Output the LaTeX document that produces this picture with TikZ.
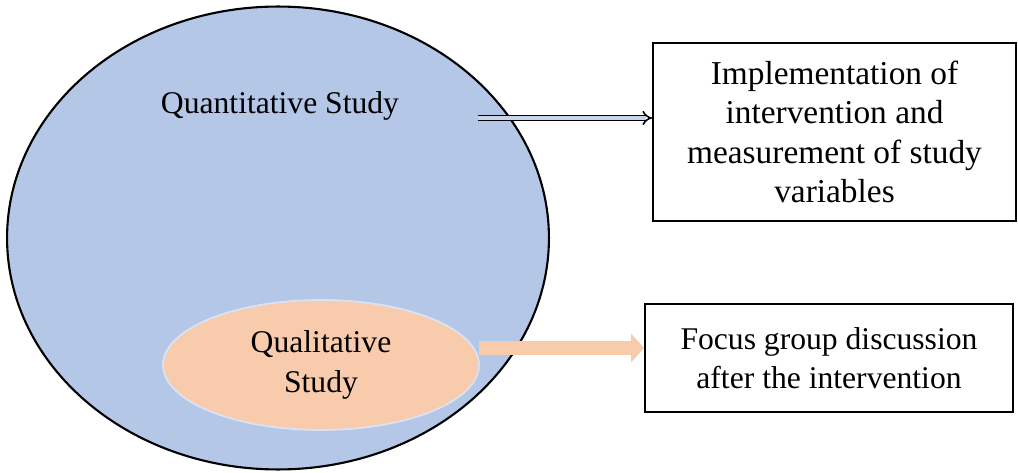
\documentclass[tikz,border=0pt]{standalone}
\usepackage{fontspec}
\setmainfont{Liberation Serif}
\usetikzlibrary{arrows.meta, shapes.geometric}

\begin{document}
\begin{tikzpicture}[> = Latex, x = 0.02cm, y = -0.02cm,
        every node/.style = {font = \fontsize{18}{22.5}\selectfont, align = center},
        studybox/.style = {draw, line width = 1.1pt, inner sep = 0pt}
    ]

        % Fix the page to the size of the picture.
        \useasboundingbox (0, 0) rectangle (1018, 473);

        % Positions for the texts and the arrow ends.
        \coordinate (QN) at (278, 238);
        \coordinate (QL) at (321, 365);
        \coordinate (S) at (478, 118);
        \coordinate (T) at (479, 348);

        % The quantitative study, with the qualitative study inside it.
        \node[%
            ellipse,
            draw,
            line width = 1.2pt,
            fill = {rgb,255:red,180;green,199;blue,231},
            minimum width = 10.84cm,
            minimum height = 9.26cm,
            inner sep = 0pt
        ] (quant) at (QN) {};
        \node (quantlabel) at (280, 106) {Quantitative Study};

        \node[%
            ellipse,
            draw = {rgb,255:red,218;green,227;blue,243},
            line width = 1pt,
            fill = {rgb,255:red,248;green,203;blue,173},
            minimum width = 6.32cm,
            minimum height = 2.6cm,
            inner sep = 0pt
        ] (qual) at (QL) {Qualitative\\Study};

        % The two boxes on the right.
        \node[studybox, minimum width = 7.26cm, minimum height = 3.56cm,
            font = \fontsize{19}{22.5}\selectfont] (measure)
            at (834.5, 132) {Implementation of\\intervention and\\measurement of study\\variables};
        \node[studybox, minimum width = 7.36cm, minimum height = 2.16cm] (focus)
            at (829, 358) {Focus group discussion\\after the intervention};

        % Arrows from the studies to the boxes.
        \draw[%
            line width = 0.9pt,
            double = {rgb,255:red,200;green,212;blue,235},
            double distance = 1.8pt,
            -{Implies[scale = 1.2]}
        ] (S) to (S -| measure.west);
        \draw[%
            draw = {rgb,255:red,248;green,203;blue,173},
            line width = 0.28cm,
            -{Triangle[length = 0.26cm, width = 0.56cm]}
        ] (T) to (T -| focus.west);
    \end{tikzpicture}
\end{document}
